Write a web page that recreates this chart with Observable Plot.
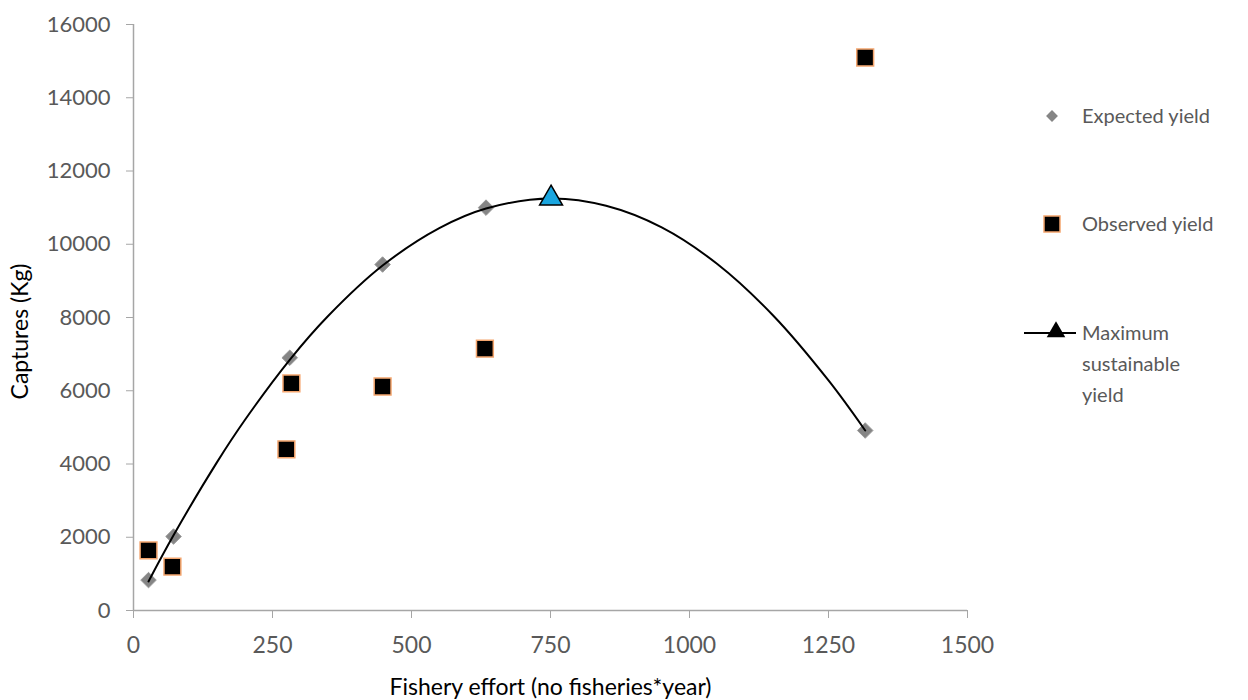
<!DOCTYPE html>
<html>
<head>
<meta charset="utf-8">
<script src="https://cdn.jsdelivr.net/npm/d3@7"></script>
<script src="https://cdn.jsdelivr.net/npm/@observablehq/plot@0.6"></script>
<style>
  body { margin: 0; background: #fff; font-family: Lato, "Open Sans", sans-serif; }
  #wrap { position: relative; width: 1248px; height: 700px; }
  #legend { position: absolute; left: 1020px; top: 0; width: 228px; color: #595959; font-size: 20px; }
  .item { position: absolute; left: 0; display: flex; align-items: flex-start; }
  .item svg { flex: none; }
  .item span { line-height: 31px; }
</style>
</head>
<body>
<div id="wrap">
  <div id="chart"></div>
  <div id="legend"></div>
</div>
<script>
// Expected yield (grey diamonds)
const expectedEffort = [27, 72, 281, 448, 634, 1316];
const expectedYield  = [830, 2020, 6900, 9446, 11000, 4914];
// Observed yield (black squares)
const observedEffort = [27, 70, 275, 284, 448, 632, 1316];
const observedYield  = [1640, 1200, 4400, 6200, 6115, 7150, 15100];
// Maximum sustainable yield point
const msyEffort = [751];
const msyYield  = [11250];
// Fitted production curve
const curveEffort = [27, 72, 150, 200, 281, 350, 448, 550, 634, 751, 850, 950, 1050, 1150, 1250, 1316];
const curveYield  = [794, 2054, 4045, 5194, 6844, 8040, 9418, 10440, 10976, 11250, 11050, 10460, 9460, 8060, 6280, 4914];
// Ticks
const xTicks = [0, 250, 500, 750, 1000, 1250, 1500];
const yTicks = [0, 2000, 4000, 6000, 8000, 10000, 12000, 14000, 16000];
// Legend labels
const legendLabels = ["Expected yield", "Observed yield", "Maximum sustainable yield"];

const expected = expectedEffort.map((e, i) => ({e, y: expectedYield[i]}));
const observed = observedEffort.map((e, i) => ({e, y: observedYield[i]}));
const msy = msyEffort.map((e, i) => ({e, y: msyYield[i]}));
const curve = curveEffort.map((e, i) => ({e, y: curveYield[i]}));

const axisColor = "#a6a6a6";
const textColor = "#595959";

const chart = Plot.plot({
  width: 1248,
  height: 700,
  marginLeft: 133,
  marginRight: 281,
  marginTop: 24,
  marginBottom: 90,
  style: {fontFamily: "Lato, 'Open Sans', sans-serif", color: textColor, background: "#fff"},
  x: {domain: [0, 1500], ticks: xTicks},
  y: {domain: [0, 16000], ticks: yTicks},
  marks: [
    Plot.ruleY([0], {stroke: axisColor, strokeWidth: 1.5}),
    Plot.ruleX([0], {stroke: axisColor, strokeWidth: 1.5}),
    Plot.axisX({ticks: xTicks, tickFormat: d => String(d), tickSize: 8, stroke: axisColor, tickPadding: 18, fill: textColor, fontSize: 23,
      label: "Fishery effort (no fisheries*year)", labelAnchor: "center", labelArrow: "none", labelOffset: 84}),
    Plot.axisY({ticks: yTicks, tickFormat: d => String(d), tickSize: 7, stroke: axisColor, tickPadding: 16, fill: textColor, fontSize: 22,
      label: "Captures (Kg)", labelAnchor: "center", labelArrow: "none", labelOffset: 122}),
    Plot.dot(expected, {x: "e", y: "y", symbol: "diamond2", r: 7, fill: "#858585", stroke: "#9a9a9a", strokeWidth: 1}),
    Plot.line(curve, {x: "e", y: "y", curve: "catmull-rom", stroke: "#000", strokeWidth: 2}),
    Plot.dot(observed, {x: "e", y: "y", symbol: "square", r: 9.5, fill: "#000", stroke: "#f4a56e", strokeWidth: 1.5}),
    Plot.dot(msy, {x: "e", y: "y", symbol: "triangle", r: 8.5, fill: "#1aa6e0", stroke: "#000", strokeWidth: 1.5})
  ]
});
document.getElementById("chart").appendChild(chart);

// axis title sizes (inline style so it beats Plot's class CSS)
const setSize = (sel, px, fill, dy) => chart.querySelectorAll(sel).forEach(g => {
  g.querySelectorAll("text").forEach(t => {
    t.style.fontSize = px + "px";
    if (fill) t.setAttribute("fill", fill);
    if (dy) { const tr = t.getAttribute("transform") || ""; t.setAttribute("transform", tr + ` translate(${dy},0)`); }
  });
});
setSize("g[aria-label='x-axis label']", 23, "#000");
setSize("g[aria-label='y-axis label']", 23, "#000", -14);

// Legend (HTML)
const legend = d3.select("#legend");
const items = [
  {top: 100, label: legendLabels[0], draw: s => s.append("path").attr("d", d3.symbol(d3.symbolDiamond2, 90)()).attr("transform", "translate(32,16)").attr("fill", "#858585")},
  {top: 208, label: legendLabels[1], draw: s => s.append("rect").attr("x", 24).attr("y", 8).attr("width", 16).attr("height", 16).attr("fill", "#000").attr("stroke", "#f4a56e").attr("stroke-width", 1.5)},
  {top: 317, label: "Maximum<br>sustainable<br>yield", draw: s => {
    s.append("line").attr("x1", 4).attr("x2", 56).attr("y1", 16).attr("y2", 16).attr("stroke", "#000").attr("stroke-width", 2);
    s.append("path").attr("d", d3.symbol(d3.symbolTriangle, 150)()).attr("transform", "translate(36,15)").attr("fill", "#000");
  }}
];
items.forEach(it => {
  const div = legend.append("div").attr("class", "item").style("top", it.top + "px");
  const svg = div.append("svg").attr("width", 62).attr("height", 32);
  it.draw(svg);
  div.append("span").html(it.label);
});
</script>
</body>
</html>
